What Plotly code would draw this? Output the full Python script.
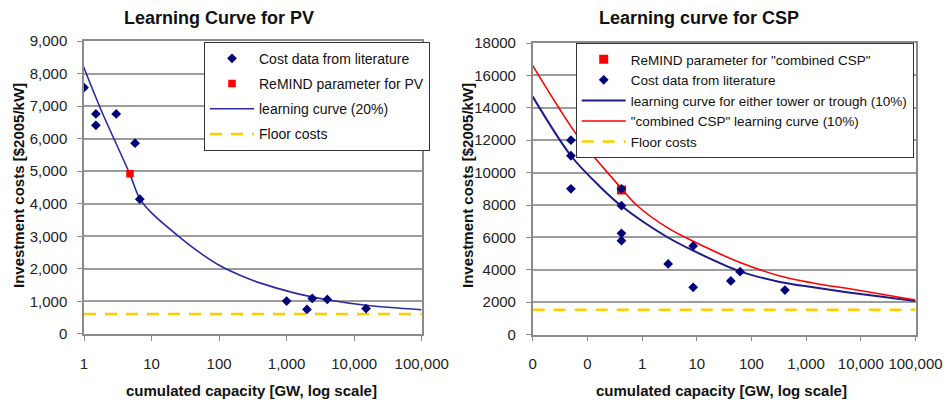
import plotly.graph_objects as go

# ---------------- PV (left) ----------------
pv_lit_x = [1, 1.5, 1.5, 3, 5.7, 6.7, 1000, 2000, 2400, 4000, 15000]
pv_lit_y = [7570, 6760, 6410, 6760, 5860, 4140, 1010, 750, 1090, 1060, 780]
pv_remind_x = [4.8]
pv_remind_y = [4920]
pv_curve_x = [0.89, 1.79, 4.77, 6.7, 10, 26.6, 50, 102, 200, 412, 1290, 4000, 15000, 100000]
pv_curve_y = [8440, 6880, 4910, 4150, 3720, 2960, 2520, 2100, 1810, 1560, 1260, 1050, 880, 740]
pv_floor_x = [1, 100000]
pv_floor_y = [610, 610]
pv_xticks = [1, 10, 100, 1000, 10000, 100000]
pv_xtext = ["1", "10", "100", "1,000", "10,000", "100,000"]

# ---------------- CSP (right) ----------------
csp_lit_x = [0.05, 0.05, 0.05, 0.42, 0.42, 0.42, 0.42, 3, 8.6, 8.6, 42, 62, 410]
csp_lit_y = [12000, 11040, 9000, 9000, 7960, 6250, 5800, 4360, 5470, 2920, 3310, 3880, 2750]
csp_remind_x = [0.42]
csp_remind_y = [8920]
csp_blue_x = [0.01, 0.05, 0.17, 0.42, 2.82, 8.63, 62, 331, 1350, 5500, 100000]
csp_blue_y = [14690, 11040, 9130, 7940, 6040, 5180, 3900, 3250, 2920, 2620, 2070]
csp_red_x = [0.01, 0.03, 0.075, 0.4, 0.79, 3, 8.63, 62, 331, 1780, 5500, 100000]
csp_red_y = [16600, 14000, 12000, 9100, 8000, 6570, 5760, 4450, 3620, 3110, 2860, 2140]
csp_floor_x = [0.01, 100000]
csp_floor_y = [1530, 1530]
csp_xticks = [0.01, 0.1, 1, 10, 100, 1000, 10000, 100000]
csp_xtext = ["0", "0", "1", "10", "100", "1,000", "10,000", "100,000"]

FONT = "Liberation Sans, Arial, sans-serif"
NAVY = "#00007a"
BLUE_L = "#2b2ba3"
BLUE_R = "#1c1c8c"
RED = "#ff0000"
GOLD = "#ffcc00"
GRID = "#9c9c9c"
AXIS = "#8a8a8a"

fig = go.Figure()

# left traces (lines first, markers on top)
fig.add_trace(go.Scatter(x=pv_floor_x, y=pv_floor_y, mode="lines", name="Floor costs",
                         line=dict(color=GOLD, width=2.5, dash="12px,9px"),
                         xaxis="x", yaxis="y", legend="legend", legendrank=4, legendgroup="a4"))
fig.add_trace(go.Scatter(x=pv_curve_x, y=pv_curve_y, mode="lines", name="learning curve (20%)",
                         line=dict(color=BLUE_L, width=1.6, shape="spline", smoothing=0.9),
                         xaxis="x", yaxis="y", legend="legend", legendrank=3, legendgroup="a3"))
fig.add_trace(go.Scatter(x=pv_lit_x, y=pv_lit_y, mode="markers", name="Cost data from literature",
                         marker=dict(symbol="diamond", size=7.5, color=NAVY),
                         xaxis="x", yaxis="y", legend="legend", legendrank=1, legendgroup="a1"))
fig.add_trace(go.Scatter(x=pv_remind_x, y=pv_remind_y, mode="markers", name="ReMIND parameter for PV",
                         marker=dict(symbol="square", size=7.5, color=RED),
                         xaxis="x", yaxis="y", legend="legend", legendrank=2, legendgroup="a2"))

# right traces
fig.add_trace(go.Scatter(x=csp_floor_x, y=csp_floor_y, mode="lines", name="Floor costs",
                         line=dict(color=GOLD, width=2.5, dash="12px,9px"),
                         xaxis="x2", yaxis="y2", legend="legend2", legendrank=5))
fig.add_trace(go.Scatter(x=csp_blue_x, y=csp_blue_y, mode="lines",
                         name="learning curve for either tower or trough (10%)",
                         line=dict(color=BLUE_R, width=2, shape="spline", smoothing=0.9),
                         xaxis="x2", yaxis="y2", legend="legend2", legendrank=3))
fig.add_trace(go.Scatter(x=csp_red_x, y=csp_red_y, mode="lines",
                         name="\"combined CSP\" learning curve (10%)",
                         line=dict(color=RED, width=1.6, shape="spline", smoothing=0.9),
                         xaxis="x2", yaxis="y2", legend="legend2", legendrank=4))
fig.add_trace(go.Scatter(x=csp_remind_x, y=csp_remind_y, mode="markers",
                         name="ReMIND parameter for \"combined CSP\"",
                         marker=dict(symbol="square", size=9, color=RED),
                         xaxis="x2", yaxis="y2", legend="legend2", legendrank=1))
fig.add_trace(go.Scatter(x=csp_lit_x, y=csp_lit_y, mode="markers", name="Cost data from literature",
                         marker=dict(symbol="diamond", size=7.5, color=NAVY),
                         xaxis="x2", yaxis="y2", legend="legend2", legendrank=2))

tickfont = dict(family=FONT, size=15, color="#222222")

common_x = dict(type="log", showline=True, linecolor=AXIS, linewidth=1.5, mirror=True,
                ticks="outside", ticklen=5, tickcolor=AXIS, showgrid=False, zeroline=False,
                tickfont=tickfont, ticklabelstandoff=10, fixedrange=True)
common_y = dict(showline=True, linecolor=AXIS, linewidth=1.5, mirror=True,
                ticks="outside", ticklen=5, tickcolor=AXIS, showgrid=True, gridcolor=GRID,
                gridwidth=1.5, zeroline=False, tickfont=tickfont, ticklabelstandoff=7,
                fixedrange=True)

fig.update_layout(
    width=948, height=400,
    margin=dict(l=0, r=0, t=0, b=0, autoexpand=False),
    paper_bgcolor="white", plot_bgcolor="white",
    font=dict(family=FONT, size=14, color="#111111"),
    xaxis=dict(domain=[84 / 948, 421.7 / 948], range=[0, 5],
               tickvals=pv_xticks, ticktext=pv_xtext, anchor="y", **common_x),
    yaxis=dict(domain=[1 - 333.9 / 400, 1 - 41 / 400], range=[0, 9000], dtick=1000,
               tickformat=",d", anchor="x", **common_y),
    xaxis2=dict(domain=[532.7 / 948, 915.5 / 948], range=[-2, 5],
                tickvals=csp_xticks, ticktext=csp_xtext, anchor="y2", **common_x),
    yaxis2=dict(domain=[1 - 334.6 / 400, 1 - 43 / 400], range=[0, 18000], dtick=2000,
                tickformat="d", anchor="x2", **common_y),
    legend=dict(x=204 / 948, y=1 - 41.7 / 400, xanchor="left", yanchor="top",
                bgcolor="white", bordercolor="#333333", borderwidth=1,
                font=dict(family=FONT, size=14, color="#111111"),
                itemwidth=44, tracegroupgap=4, traceorder="grouped"),
    legend2=dict(x=575.7 / 948, y=1 - 43 / 400, xanchor="left", yanchor="top",
                 bgcolor="white", bordercolor="#333333", borderwidth=1,
                 font=dict(family=FONT, size=13.5, color="#111111"),
                 itemwidth=44, tracegroupgap=0, traceorder="normal"),
    showlegend=True,
)

ann = []
ann.append(dict(text="<b>Learning Curve for PV</b>", x=219 / 948, y=1 - 18 / 400,
                xref="paper", yref="paper", showarrow=False, xanchor="center", yanchor="middle",
                font=dict(family=FONT, size=18, color="#111111")))
ann.append(dict(text="<b>Learning curve for CSP</b>", x=698.5 / 948, y=1 - 18 / 400,
                xref="paper", yref="paper", showarrow=False, xanchor="center", yanchor="middle",
                font=dict(family=FONT, size=18, color="#111111")))
for cx in (251.5, 721.5):
    ann.append(dict(text="<b>cumulated capacity [GW, log scale]</b>", x=cx / 948, y=1 - 390 / 400,
                    xref="paper", yref="paper", showarrow=False, xanchor="center", yanchor="middle",
                    font=dict(family=FONT, size=15, color="#111111")))
for cx in (18, 467):
    ann.append(dict(text="<b>Investment costs [$2005/kW]</b>", x=cx / 948, y=1 - 186 / 400,
                    xref="paper", yref="paper", showarrow=False, xanchor="center", yanchor="middle",
                    textangle=-90, font=dict(family=FONT, size=15, color="#111111")))
fig.update_layout(annotations=ann)

fig.write_html("out.html")
